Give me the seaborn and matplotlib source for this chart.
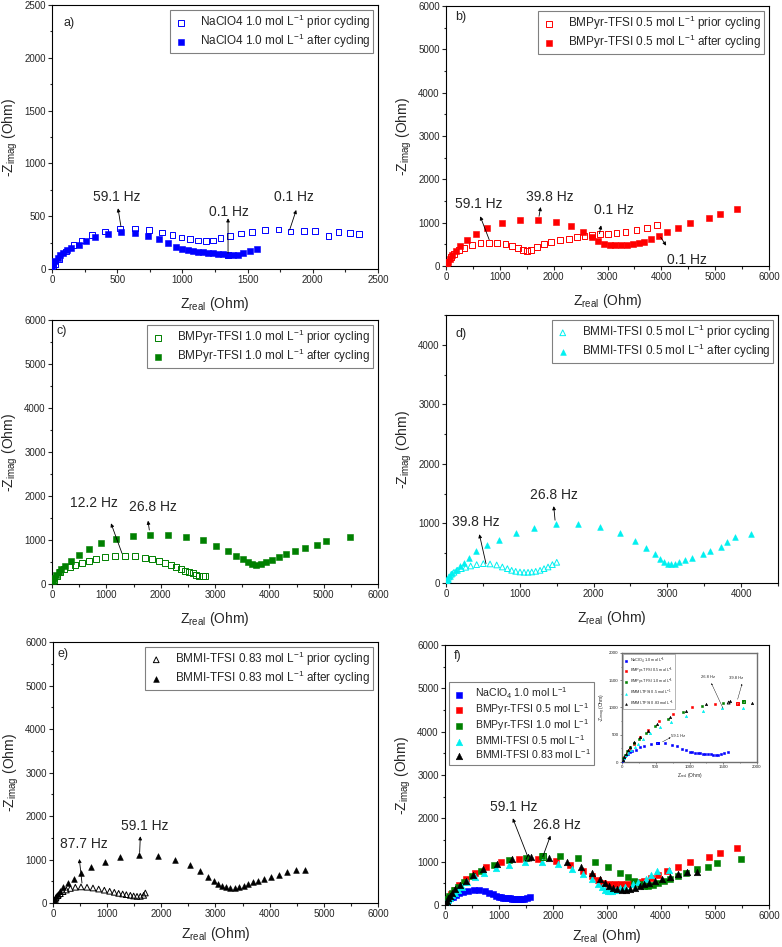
import numpy as np
import pandas as pd
import matplotlib
matplotlib.use('Agg')
import matplotlib.pyplot as plt
from matplotlib.ticker import AutoMinorLocator
import seaborn as sns

# Nyquist data (Ohm)
naclo4_prior_x = [8, 23, 56, 107, 164, 227, 304, 406, 521, 636, 744, 841, 925, 994, 1058, 1122, 1181, 1237, 1293, 1365, 1447, 1531, 1633, 1736, 1828, 1935, 2019, 2121, 2198, 2288, 2352]
naclo4_prior_y = [20, 47, 95, 165, 228, 269, 323, 354, 383, 383, 370, 345, 323, 298, 282, 269, 266, 269, 291, 313, 335, 351, 367, 373, 354, 360, 357, 313, 350, 338, 331]
naclo4_after_x = [2, 10, 26, 44, 64, 87, 113, 149, 205, 262, 333, 428, 528, 638, 736, 820, 890, 949, 1000, 1044, 1082, 1120, 1159, 1197, 1236, 1274, 1313, 1351, 1390, 1428, 1467, 1518, 1569]
naclo4_after_y = [22, 54, 79, 108, 133, 155, 180, 196, 228, 269, 301, 332, 348, 342, 316, 285, 244, 212, 190, 177, 168, 161, 158, 152, 149, 146, 142, 136, 130, 133, 149, 171, 187]

bmpyr05_prior_x = [25, 87, 148, 241, 346, 489, 643, 798, 952, 1107, 1231, 1336, 1435, 1509, 1583, 1695, 1818, 1954, 2115, 2282, 2437, 2573, 2715, 2857, 3006, 3167, 3334, 3538, 3736, 3921]
bmpyr05_prior_y = [92, 208, 285, 361, 423, 492, 531, 538, 538, 515, 469, 423, 369, 346, 377, 438, 500, 554, 592, 631, 669, 700, 723, 731, 738, 761, 784, 823, 884, 938]
bmpyr05_after_x = [12, 37, 74, 118, 179, 260, 383, 550, 755, 1033, 1373, 1713, 2047, 2313, 2548, 2715, 2826, 2931, 3043, 3148, 3259, 3365, 3476, 3581, 3686, 3810, 3952, 4107, 4311, 4540, 4880, 5084, 5400]
bmpyr05_after_y = [38, 92, 169, 246, 338, 454, 592, 746, 877, 1000, 1069, 1069, 1007, 915, 784, 661, 569, 515, 484, 477, 477, 484, 500, 523, 554, 615, 700, 784, 877, 984, 1115, 1207, 1310]

bmpyr10_prior_x = [43, 92, 153, 227, 325, 423, 552, 675, 816, 969, 1153, 1337, 1521, 1706, 1840, 1963, 2086, 2190, 2288, 2380, 2454, 2528, 2595, 2650, 2712, 2773, 2822]
bmpyr10_prior_y = [91, 189, 280, 341, 394, 432, 470, 523, 568, 606, 636, 644, 629, 598, 561, 523, 470, 424, 386, 341, 303, 273, 242, 205, 182, 182, 182]
bmpyr10_after_x = [18, 43, 80, 123, 172, 245, 350, 491, 675, 908, 1184, 1491, 1798, 2135, 2466, 2773, 3018, 3233, 3387, 3509, 3607, 3687, 3761, 3847, 3939, 4049, 4172, 4307, 4466, 4663, 4877, 5043, 5480]
bmpyr10_after_y = [68, 129, 205, 280, 341, 417, 530, 659, 795, 924, 1030, 1091, 1121, 1121, 1076, 992, 871, 750, 636, 561, 492, 447, 432, 455, 508, 553, 606, 674, 750, 826, 880, 975, 1070]

bmmi05_prior_x = [18, 41, 72, 108, 154, 208, 267, 334, 416, 506, 597, 687, 764, 832, 890, 945, 1003, 1058, 1112, 1162, 1216, 1275, 1329, 1383, 1442, 1501]
bmmi05_prior_y = [56, 101, 146, 180, 213, 241, 264, 286, 309, 325, 320, 303, 269, 241, 213, 196, 185, 180, 180, 185, 196, 213, 241, 269, 309, 348]
bmmi05_after_x = [9, 27, 54, 86, 131, 190, 244, 312, 411, 560, 719, 945, 1193, 1487, 1794, 2084, 2359, 2563, 2717, 2830, 2902, 2956, 3010, 3056, 3101, 3159, 3236, 3340, 3489, 3575, 3724, 3815, 3919, 4140]
bmmi05_after_y = [34, 73, 123, 168, 224, 281, 337, 421, 533, 645, 729, 847, 931, 987, 987, 942, 842, 712, 589, 488, 410, 353, 320, 314, 325, 348, 381, 421, 494, 533, 606, 684, 774, 819]

bmmi083_prior_x = [25, 55, 92, 135, 185, 246, 320, 412, 517, 628, 738, 843, 948, 1046, 1132, 1212, 1286, 1354, 1428, 1489, 1551, 1612, 1674, 1705]
bmmi083_prior_y = [61, 115, 169, 215, 261, 299, 335, 362, 370, 362, 345, 320, 295, 270, 246, 222, 207, 192, 176, 161, 153, 153, 176, 230]
bmmi083_after_x = [12, 31, 55, 86, 123, 185, 271, 382, 523, 708, 954, 1243, 1594, 1932, 2258, 2523, 2720, 2862, 2966, 3046, 3120, 3194, 3274, 3354, 3434, 3520, 3606, 3692, 3778, 3889, 4025, 4166, 4320, 4486, 4659]
bmmi083_after_y = [38, 92, 153, 215, 284, 360, 460, 560, 690, 821, 943, 1058, 1112, 1089, 997, 874, 729, 598, 499, 437, 391, 368, 353, 353, 368, 399, 437, 476, 514, 552, 598, 644, 713, 759, 767]

names = ['NaClO4 1.0 mol L$^{-1}$', 'BMPyr-TFSI 0.5 mol L$^{-1}$', 'BMPyr-TFSI 1.0 mol L$^{-1}$',
         'BMMI-TFSI 0.5 mol L$^{-1}$', 'BMMI-TFSI 0.83 mol L$^{-1}$']
names_f = ['NaClO$_4$ 1.0 mol L$^{-1}$', 'BMPyr-TFSI 0.5 mol L$^{-1}$', 'BMPyr-TFSI 1.0 mol L$^{-1}$',
           'BMMI-TFSI 0.5 mol L$^{-1}$', 'BMMI-TFSI 0.83 mol L$^{-1}$']
colors = ['#0000FF', '#FF0000', '#008000', '#00F0F0', '#000000']
markers = ['s', 's', 's', '^', '^']

sns.set_style('ticks')
plt.rcParams['font.family'] = ['Liberation Sans', 'DejaVu Sans']
plt.rcParams['mathtext.default'] = 'regular'

fig = plt.figure(figsize=(7.82, 9.47), dpi=100)


def px_axes(left, top, right, bottom):
    return fig.add_axes([left / 782, 1 - bottom / 947, (right - left) / 782, (bottom - top) / 947])


def style_axes(ax, xmax, ymax, step, small=False, xpad=7):
    ax.set_xlim(0, xmax)
    ax.set_ylim(0, ymax)
    ax.set_xticks(np.arange(0, xmax + 1, step))
    ax.set_yticks(np.arange(0, ymax + 1, step))
    ax.xaxis.set_minor_locator(AutoMinorLocator(2))
    ax.yaxis.set_minor_locator(AutoMinorLocator(2))
    if small:
        ax.tick_params(which='major', direction='out', length=1.5, width=0.4, labelsize=3.2, pad=1)
        ax.tick_params(which='minor', direction='out', length=0.8, width=0.4)
        ax.set_xlabel('Z$_{real}$ (Ohm)', fontsize=3.5, labelpad=1)
        ax.set_ylabel('-Z$_{imag}$ (Ohm)', fontsize=3.5, labelpad=1)
        for sp in ax.spines.values():
            sp.set_linewidth(1.0)
            sp.set_color('#707070')
    else:
        ax.tick_params(which='major', direction='out', length=3, width=0.8, labelsize=7, pad=1.5)
        ax.tick_params(which='minor', direction='out', length=1.8, width=0.8)
        ax.set_xlabel('Z$_{real}$ (Ohm)', fontsize=10, labelpad=xpad)
        ax.set_ylabel('-Z$_{imag}$ (Ohm)', fontsize=10, labelpad=3)
        for sp in ax.spines.values():
            sp.set_linewidth(0.8)
            sp.set_color('black')


def note(ax, text, txy, tail, head, fs=10, lw=0.6, ms=5):
    ax.annotate('', xy=head, xytext=tail,
                arrowprops=dict(arrowstyle='-|>', color='black', lw=lw, mutation_scale=ms, shrinkA=0, shrinkB=0))
    ax.text(txy[0], txy[1], text, ha='center', va='center', fontsize=fs)


def open_pts(ax, x, y, color, marker, s, label=None):
    sns.scatterplot(x=x, y=y, marker=marker, s=s, facecolors='none', edgecolor=color,
                    linewidth=0.7, label=label, legend=False, ax=ax, zorder=3)


def full_pts(ax, x, y, color, marker, s, label=None):
    sns.scatterplot(x=x, y=y, marker=marker, s=s, color=color, edgecolor=color,
                    linewidth=0.4, label=label, legend=False, ax=ax, zorder=3)


def pair_legend(ax, tag, tagpos):
    leg = ax.legend(loc='upper right', fontsize=8.5, frameon=True, fancybox=False, edgecolor='#808080',
                    framealpha=1, borderpad=0.25, labelspacing=0.08, handletextpad=0.9,
                    handlelength=1.4, borderaxespad=0.4, scatterpoints=1)
    leg.get_frame().set_linewidth(0.8)
    ax.text(tagpos[0], tagpos[1], tag, transform=ax.transAxes, fontsize=9, ha='left', va='center')
    return leg


def pair_points(ax, px, py, ax_, ay, i):
    open_pts(ax, px, py, colors[i], markers[i], 17, names[i] + ' prior cycling')
    full_pts(ax, ax_, ay, colors[i], markers[i], 17, names[i] + ' after cycling')


# a)
ax_a = px_axes(52, 5, 378, 269)
pair_points(ax_a, naclo4_prior_x, naclo4_prior_y, naclo4_after_x, naclo4_after_y, 0)
open_pts(ax_a, [1352], [133], colors[0], 's', 17)
style_axes(ax_a, 2500, 2500, 500)
pair_legend(ax_a, 'a)', (0.035, 0.93))
note(ax_a, '59.1 Hz', (498, 679), (529, 401), (506, 575))
note(ax_a, '0.1 Hz', (1355, 543), (1350, 150), (1350, 480))
note(ax_a, '0.1 Hz', (1858, 679), (1822, 369), (1873, 559))

# b)
ax_b = px_axes(446, 6, 769, 266)
pair_points(ax_b, bmpyr05_prior_x, bmpyr05_prior_y, bmpyr05_after_x, bmpyr05_after_y, 1)
style_axes(ax_b, 6000, 6000, 1000)
pair_legend(ax_b, 'b)', (0.028, 0.958))
note(ax_b, '59.1 Hz', (617, 1423), (802, 608), (636, 1146))
note(ax_b, '39.8 Hz', (1925, 1592), (1728, 1146), (1758, 1361))
note(ax_b, '0.1 Hz', (3116, 1284), (2851, 746), (2881, 938))
note(ax_b, '0.1 Hz', (4473, 131), (3990, 660), (4090, 470))

# c)
ax_c = px_axes(52, 320, 378, 584)
pair_points(ax_c, bmpyr10_prior_x, bmpyr10_prior_y, bmpyr10_after_x, bmpyr10_after_y, 2)
style_axes(ax_c, 6000, 6000, 1000)
pair_legend(ax_c, 'c)', (0.015, 0.958))
note(ax_c, '12.2 Hz', (767, 1833), (1288, 697), (1086, 1379))
note(ax_c, '26.8 Hz', (1859, 1742), (1791, 1227), (1767, 1439))

# d)
ax_d = px_axes(446, 315, 778, 583)
pair_points(ax_d, bmmi05_prior_x, bmmi05_prior_y, bmmi05_after_x, bmmi05_after_y, 3)
style_axes(ax_d, 4500, 4500, 1000)
pair_legend(ax_d, 'd)', (0.03, 0.93))
note(ax_d, '26.8 Hz', (1469, 1475), (1478, 1055), (1460, 1290))
note(ax_d, '39.8 Hz', (407, 1027), (542, 325), (452, 819))

# e)
ax_e = px_axes(53, 642, 378, 903)
pair_points(ax_e, bmmi083_prior_x, bmmi083_prior_y, bmmi083_after_x, bmmi083_after_y, 4)
style_axes(ax_e, 6000, 6000, 1000, xpad=4)
leg_e = pair_legend(ax_e, 'e)', (0.015, 0.954))
leg_e.set_bbox_to_anchor((1.0, 1.0), transform=ax_e.transAxes)
note(ax_e, '59.1 Hz', (1686, 1764), (1600, 1166), (1612, 1534))
note(ax_e, '87.7 Hz', (566, 1358), (535, 460), (486, 1012))

# f) all after cycling
after_x = [naclo4_after_x, bmpyr05_after_x, bmpyr10_after_x, bmmi05_after_x, bmmi083_after_x]
after_y = [naclo4_after_y, bmpyr05_after_y, bmpyr10_after_y, bmmi05_after_y, bmmi083_after_y]

ax_f = px_axes(445, 645, 769, 905)
for i in range(5):
    full_pts(ax_f, after_x[i], after_y[i], colors[i], markers[i], 22, names_f[i])
open_pts(ax_f, [1545], [1092], colors[4], '^', 22)
open_pts(ax_f, [1811], [1115], colors[2], 's', 22)
style_axes(ax_f, 6000, 6000, 1000, xpad=4)
leg = ax_f.legend(loc='upper left', bbox_to_anchor=(0.012, 0.858), fontsize=7.6, frameon=True, fancybox=False,
                  edgecolor='#808080', framealpha=1, borderpad=0.35, labelspacing=0.02, handletextpad=0.9,
                  handlelength=1.2, borderaxespad=0, scatterpoints=1)
leg.get_frame().set_linewidth(0.8)
ax_f.text(0.028, 0.958, 'f)', transform=ax_f.transAxes, fontsize=9, ha='left', va='center')
note(ax_f, '59.1 Hz', (1273, 2253), (1533, 1115), (1255, 2000))
note(ax_f, '26.8 Hz', (2070, 1845), (1811, 1115), (1953, 1600))

# inset
ax_i = px_axes(622, 653, 757, 762)
for i in range(5):
    full_pts(ax_i, after_x[i], after_y[i], colors[i], markers[i], 3, names_f[i])
open_pts(ax_i, [528], [348], colors[0], 's', 4)
open_pts(ax_i, [1580], [1090], colors[4], '^', 4)
open_pts(ax_i, [1713], [1069], colors[1], 's', 4)
open_pts(ax_i, [1803], [1107], colors[2], 's', 4)
style_axes(ax_i, 2000, 2000, 500, small=True)
leg = ax_i.legend(loc='upper left', fontsize=2.8, frameon=True, fancybox=False, edgecolor='#808080',
                  framealpha=1, borderpad=0.3, labelspacing=0.2, handletextpad=0.4, handlelength=1,
                  borderaxespad=0.3, scatterpoints=1, markerscale=0.8)
leg.get_frame().set_linewidth(0.4)
note(ax_i, '26.8 Hz', (1275, 1556), (1497, 984), (1324, 1445), fs=3, lw=0.3, ms=2)
note(ax_i, '39.8 Hz', (1690, 1537), (1713, 1150), (1778, 1433), fs=3, lw=0.3, ms=2)
note(ax_i, '59.1 Hz', (830, 470), (600, 370), (720, 450), fs=3, lw=0.3, ms=2)

fig.savefig('out.png', dpi=100)
